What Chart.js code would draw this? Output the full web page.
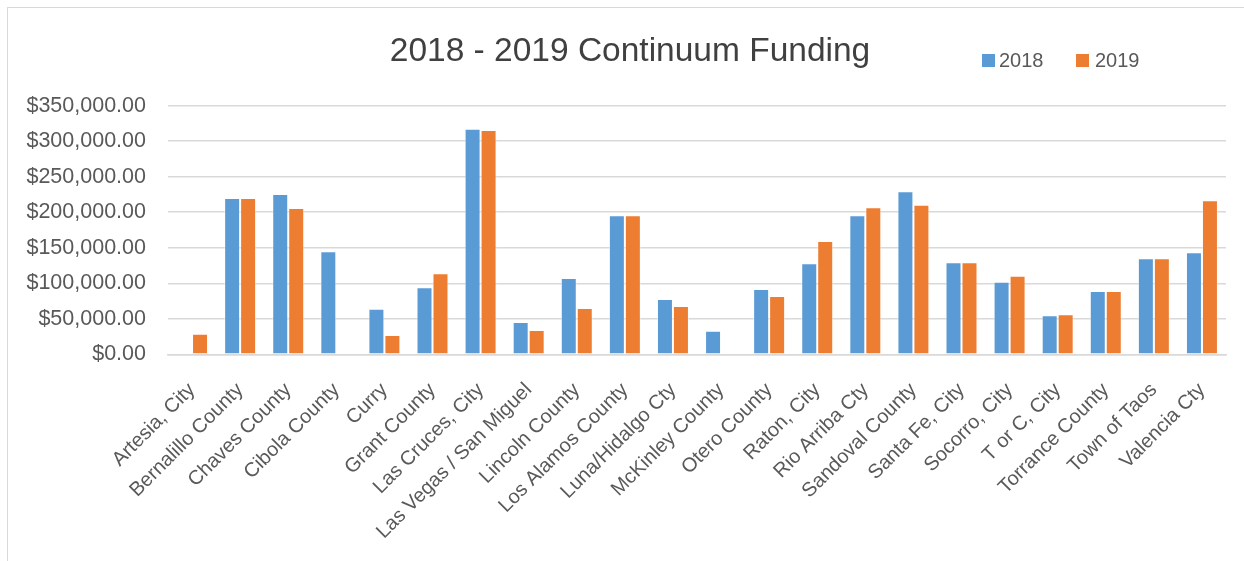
<!DOCTYPE html>
<html>
<head>
<meta charset="utf-8">
<script src="https://cdn.jsdelivr.net/npm/chart.js@4/dist/chart.umd.min.js"></script>
<style>
  html, body { margin: 0; padding: 0; background: #ffffff; }
  #wrap { position: relative; width: 1244px; height: 561px; }
</style>
</head>
<body>
<div id="wrap"><canvas id="c" width="1244" height="561"></canvas></div>
<script>
const categories = [
  "Artesia, City", "Bernalillo County", "Chaves County", "Cibola County", "Curry",
  "Grant County", "Las Cruces, City", "Las Vegas / San Miguel", "Lincoln County",
  "Los Alamos County", "Luna/Hidalgo Cty", "McKinley County", "Otero County",
  "Raton, City", "Rio Arriba Cty", "Sandoval County", "Santa Fe, City",
  "Socorro, City", "T or C, City", "Torrance County", "Town of Taos", "Valencia Cty"
];
const values2018 = [
  null, 220000, 225700, 145000, 64200,
  94300, 317600, 45500, 107400,
  195700, 77900, 33200, 91900,
  128100, 195700, 229500, 129500,
  102200, 54900, 89100, 135200, 143600
];
const values2019 = [
  29000, 220000, 206000, null, 27200,
  114000, 315800, 34200, 65200,
  195700, 68000, null, 82100,
  159500, 207000, 210600, 129500,
  110700, 56300, 89100, 135200, 216800
];
const seriesNames = ["2018", "2019"];
const yTicks = [0, 50000, 100000, 150000, 200000, 250000, 300000, 350000];
const titleText = "2018 - 2019 Continuum Funding";

const FONT = "'Liberation Sans', Arial, sans-serif";
const colors = ["#5B9BD5", "#ED7D31"];

const frameTitleLegend = {
  id: "frameTitleLegend",
  beforeDraw(chart) {
    const ctx = chart.ctx;
    ctx.save();
    ctx.strokeStyle = "#d9d9d9";
    ctx.lineWidth = 1;
    ctx.strokeRect(7.5, 7.5, 1400, 700);
    ctx.restore();
  },
  afterDraw(chart) {
    const ctx = chart.ctx;
    ctx.save();
    // title
    ctx.font = "33.5px " + FONT;
    ctx.fillStyle = "#404040";
    ctx.textAlign = "center";
    ctx.textBaseline = "middle";
    ctx.fillText(titleText, 630, 52);
    // legend
    const pos = [{ box: 982, text: 999 }, { box: 1076, text: 1095 }];
    ctx.font = "20px " + FONT;
    ctx.textAlign = "left";
    chart.data.datasets.forEach((ds, i) => {
      ctx.fillStyle = ds.backgroundColor;
      ctx.fillRect(pos[i].box, 54, 13, 13);
      ctx.fillStyle = "#595959";
      ctx.fillText(ds.label, pos[i].text, 61);
    });
    ctx.restore();
  }
};

new Chart(document.getElementById("c"), {
  type: "bar",
  data: {
    labels: categories,
    datasets: seriesNames.map((name, i) => ({
      label: name,
      data: i === 0 ? values2018 : values2019,
      backgroundColor: colors[i],
      borderColor: "rgba(255,255,255,0.45)",
      borderWidth: 1,
      barPercentage: 1.0,
      categoryPercentage: 0.665
    }))
  },
  options: {
    responsive: false,
    animation: false,
    devicePixelRatio: 1,
    layout: { padding: { left: 0, right: 18, top: 105.7, bottom: 0 } },
    plugins: {
      legend: { display: false },
      tooltip: { enabled: false },
      title: { display: false }
    },
    scales: {
      x: {
        grid: { display: false, drawTicks: false },
        border: { display: true, color: "#d9d9d9", width: 1.5 },
        ticks: {
          color: "#595959",
          font: { family: FONT, size: 20 },
          maxRotation: 45,
          minRotation: 45,
          autoSkip: false,
          padding: 24
        },
        afterFit(scale) { scale.height = 206.7; }
      },
      y: {
        min: 0,
        max: 350000,
        afterBuildTicks(scale) { scale.ticks = yTicks.map(v => ({ value: v })); },
        grid: { color: "#d9d9d9", lineWidth: 1.5, drawTicks: false },
        border: { display: false },
        ticks: {
          color: "#595959",
          font: { family: FONT, size: 21.5 },
          padding: 22,
          callback: v => "$" + Number(v).toLocaleString("en-US", { minimumFractionDigits: 2, maximumFractionDigits: 2 })
        },
        afterFit(scale) { scale.width = 168; }
      }
    }
  },
  plugins: [frameTitleLegend]
});
</script>
</body>
</html>
